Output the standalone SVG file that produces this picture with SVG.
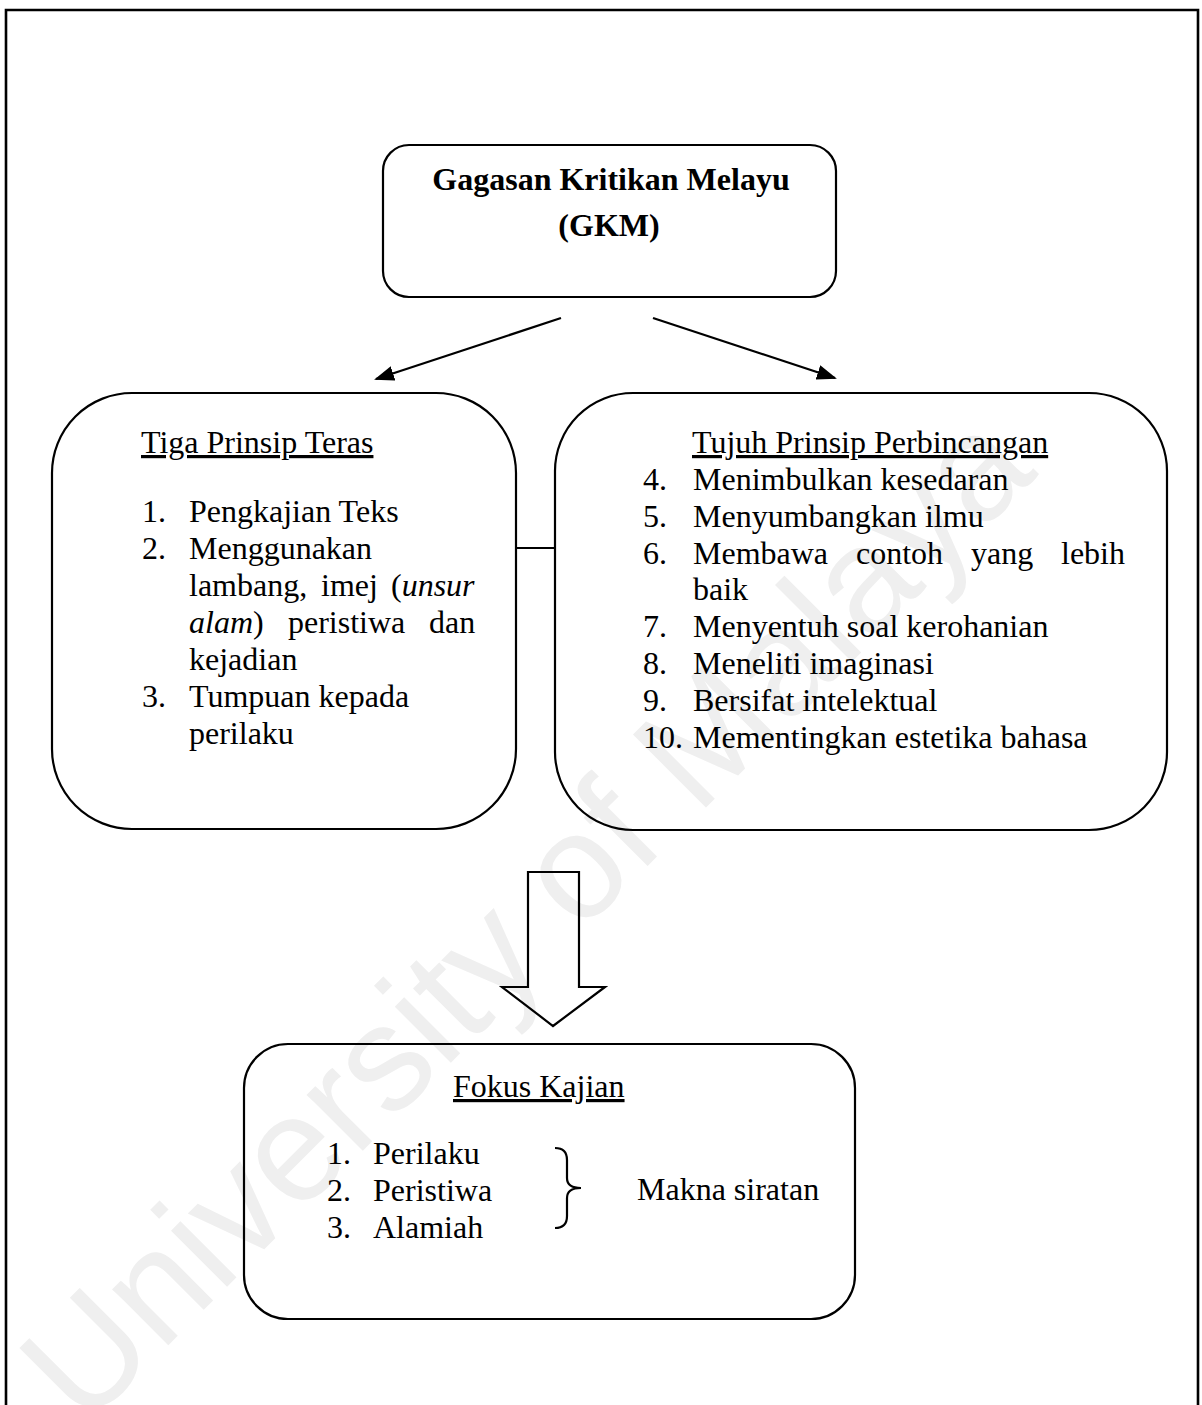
<svg xmlns="http://www.w3.org/2000/svg" width="1202" height="1405" viewBox="0 0 1202 1405">
<style>
.t{font-family:"Liberation Serif","Times New Roman",serif;font-size:32px;fill:#000}
.b{font-weight:bold}
.u{text-decoration:underline}
.i{font-style:italic}
.box{fill:none;stroke:#000;stroke-width:2.2}
.ln{fill:none;stroke:#000;stroke-width:2.2}
.wm{font-family:"Liberation Sans",Arial,sans-serif;font-size:150px;fill:#efefef}
</style>
<defs>
<marker id="ah" markerWidth="20" markerHeight="15" refX="18" refY="7.5" orient="auto" markerUnits="userSpaceOnUse">
<path d="M0,0 L20,7.5 L0,15 Z" fill="#000"/>
</marker>
</defs>
<rect width="1202" height="1405" fill="#fff"/>
<text class="wm" transform="translate(525,915) rotate(-45)" x="0" y="52" text-anchor="middle">University of Malaya</text>
<path d="M6,1405 V10 H1198 V1405" fill="none" stroke="#000" stroke-width="2.6"/>

<g id="connectors">
<line class="ln" x1="561" y1="318" x2="376" y2="379" marker-end="url(#ah)"/>
<line class="ln" x1="653" y1="318" x2="835" y2="378" marker-end="url(#ah)"/>
<line class="ln" x1="516" y1="548" x2="555" y2="548"/>
<polygon class="ln" points="528,872 579,872 579,987 605,987 553,1026 502,987 528,987"/>
</g>

<g id="gkm">
<rect class="box" x="383" y="145" width="453" height="152" rx="26"/>
<text class="t b" x="611" y="190" text-anchor="middle">Gagasan Kritikan Melayu</text>
<text class="t b" x="609" y="236" text-anchor="middle">(GKM)</text>
</g>

<g id="tiga">
<rect class="box" x="52" y="393" width="464" height="436" rx="80"/>
<text class="t u" x="141" y="453">Tiga Prinsip Teras</text>
<text class="t" x="142" y="522">1.</text><text class="t" x="189" y="522">Pengkajian Teks</text>
<text class="t" x="142" y="559">2.</text><text class="t" x="189" y="559">Menggunakan</text>
<text class="t" x="189" y="596">lambang,</text>
<text class="t" x="321" y="596">imej</text>
<text class="t" x="391" y="596">(<tspan class="i">unsur</tspan></text>
<text class="t" x="189" y="633"><tspan class="i">alam</tspan>)</text>
<text class="t" x="288" y="633">peristiwa</text>
<text class="t" x="429" y="633">dan</text>
<text class="t" x="189" y="670">kejadian</text>
<text class="t" x="142" y="707">3.</text><text class="t" x="189" y="707">Tumpuan kepada</text>
<text class="t" x="189" y="744">perilaku</text>
</g>

<g id="tujuh">
<rect class="box" x="555" y="393" width="612" height="437" rx="78"/>
<text class="t u" x="692" y="453">Tujuh Prinsip Perbincangan</text>
<text class="t" x="643" y="490">4.</text><text class="t" x="693" y="490">Menimbulkan kesedaran</text>
<text class="t" x="643" y="527">5.</text><text class="t" x="693" y="527">Menyumbangkan ilmu</text>
<text class="t" x="643" y="564">6.</text><text class="t" x="693" y="564">Membawa</text>
<text class="t" x="856" y="564">contoh</text>
<text class="t" x="971" y="564">yang</text>
<text class="t" x="1061" y="564">lebih</text>
<text class="t" x="693" y="600">baik</text>
<text class="t" x="643" y="637">7.</text><text class="t" x="693" y="637">Menyentuh soal kerohanian</text>
<text class="t" x="643" y="674">8.</text><text class="t" x="693" y="674">Meneliti imaginasi</text>
<text class="t" x="643" y="711">9.</text><text class="t" x="693" y="711">Bersifat intelektual</text>
<text class="t" x="643" y="748">10.</text><text class="t" x="693" y="748">Mementingkan estetika bahasa</text>
</g>

<g id="fokus">
<rect class="box" x="244" y="1044" width="611" height="275" rx="44"/>
<text class="t u" x="453" y="1097">Fokus Kajian</text>
<text class="t" x="327" y="1164">1.</text><text class="t" x="373" y="1164">Perilaku</text>
<text class="t" x="327" y="1201">2.</text><text class="t" x="373" y="1201">Peristiwa</text>
<text class="t" x="327" y="1238">3.</text><text class="t" x="373" y="1238">Alamiah</text>
<path class="ln" d="M555,1148 Q567,1148 567,1160 V1178 Q567,1188 581,1188 Q567,1188 567,1198 V1216 Q567,1228 555,1228"/>
<text class="t" x="637" y="1200">Makna siratan</text>
</g>
</svg>
